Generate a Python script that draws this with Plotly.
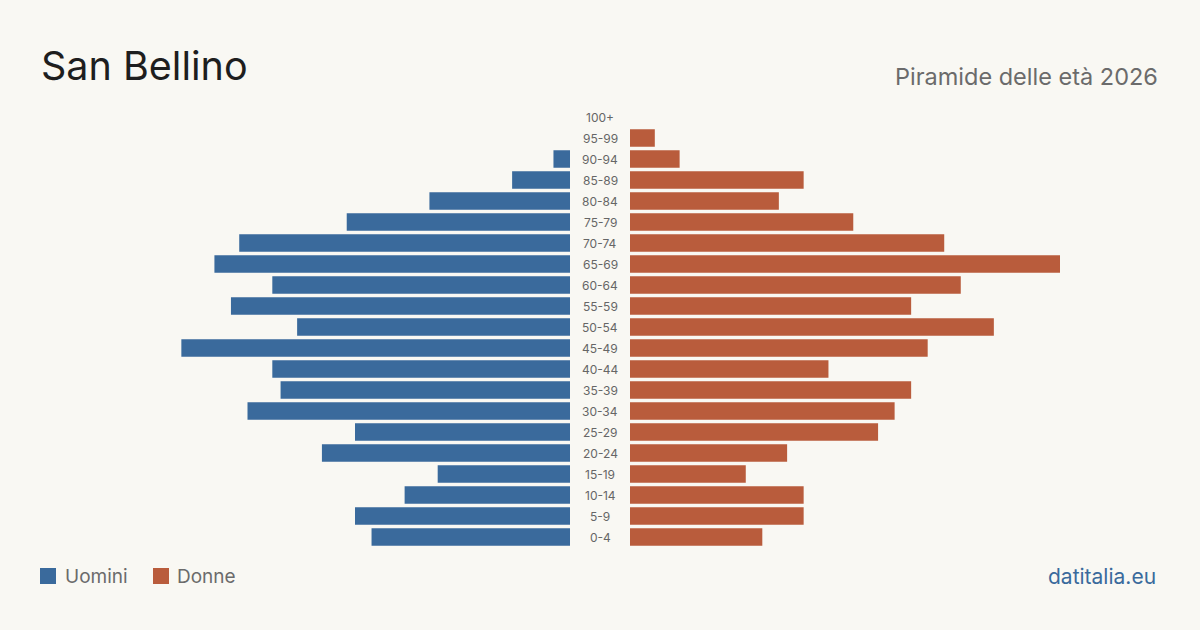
import plotly.graph_objects as go

categories = ["100+", "95-99", "90-94", "85-89", "80-84", "75-79", "70-74", "65-69",
              "60-64", "55-59", "50-54", "45-49", "40-44", "35-39", "30-34", "25-29",
              "20-24", "15-19", "10-14", "5-9", "0-4"]
uomini = [0, 0, 2, 7, 17, 27, 40, 43, 36, 41, 33, 47, 36, 35, 39, 26, 30, 16, 20, 26, 24]
donne = [0, 3, 6, 21, 18, 27, 38, 52, 40, 34, 44, 36, 24, 34, 32, 30, 19, 14, 21, 21, 16]

title = "San Bellino"
subtitle = "Piramide delle età 2026"
source = "datitalia.eu"
series_names = ["Uomini", "Donne"]

BLUE = "#3a6a9c"
RED = "#b95c3c"
BG = "#f9f8f3"
FONT = "Inter, 'Noto Sans', sans-serif"

W, H = 1200, 630
xmax = max(max(uomini), max(donne))

fig = go.Figure()
fig.add_trace(go.Bar(y=categories, x=uomini, orientation="h", marker_color=BLUE,
                     marker_line_width=0,
                     name=series_names[0], xaxis="x", yaxis="y", hoverinfo="x+y"))
fig.add_trace(go.Bar(y=categories, x=donne, orientation="h", marker_color=RED,
                     marker_line_width=0,
                     name=series_names[1], xaxis="x2", yaxis="y", hoverinfo="x+y"))

annotations = []
for c in categories:
    annotations.append(dict(x=0.5, xref="paper", y=c, yref="y", text=c, showarrow=False,
                            font=dict(family=FONT, size=12, color="#666666"),
                            xanchor="center", yanchor="middle"))

annotations += [
    dict(x=39 / W, y=1 - 66 / H, xref="paper", yref="paper", text=title, showarrow=False,
         xanchor="left", yanchor="middle", font=dict(family=FONT, size=39.5, color="#1e1e1e")),
    dict(x=1160 / W, y=1 - 76 / H, xref="paper", yref="paper", text=subtitle, showarrow=False,
         xanchor="right", yanchor="middle", font=dict(family=FONT, size=23.5, color="#6b6b6b")),
    dict(x=63 / W, y=1 - 576 / H, xref="paper", yref="paper", text=series_names[0], showarrow=False,
         xanchor="left", yanchor="middle", font=dict(family=FONT, size=19, color="#6b6b6b")),
    dict(x=175 / W, y=1 - 576 / H, xref="paper", yref="paper", text=series_names[1], showarrow=False,
         xanchor="left", yanchor="middle", font=dict(family=FONT, size=19, color="#6b6b6b")),
    dict(x=1158 / W, y=1 - 576 / H, xref="paper", yref="paper", text=source, showarrow=False,
         xanchor="right", yanchor="middle", font=dict(family=FONT, size=21, color=BLUE)),
]

shapes = [
    dict(type="rect", xref="paper", yref="paper", x0=40 / W, x1=56 / W,
         y0=1 - 584 / H, y1=1 - 568 / H, fillcolor=BLUE, line_width=0),
    dict(type="rect", xref="paper", yref="paper", x0=153 / W, x1=169 / W,
         y0=1 - 584 / H, y1=1 - 568 / H, fillcolor=RED, line_width=0),
]

row_h = 21
y_top = 117 - row_h / 2
y_bot = 537 + row_h / 2

fig.update_layout(
    width=W, height=H,
    margin=dict(l=0, r=0, t=0, b=0),
    paper_bgcolor=BG, plot_bgcolor="rgba(0,0,0,0)",
    showlegend=False,
    bargap=0.17,
    xaxis=dict(domain=[140 / W, 570 / W], range=[xmax, 0], visible=False, fixedrange=True),
    xaxis2=dict(domain=[630 / W, 1060 / W], range=[0, xmax], visible=False, fixedrange=True),
    yaxis=dict(domain=[1 - y_bot / H, 1 - y_top / H], categoryorder="array",
               categoryarray=categories[::-1], visible=False, fixedrange=True),
    annotations=annotations,
    shapes=shapes,
)

fig.write_html("out.html", config={"displayModeBar": False})
